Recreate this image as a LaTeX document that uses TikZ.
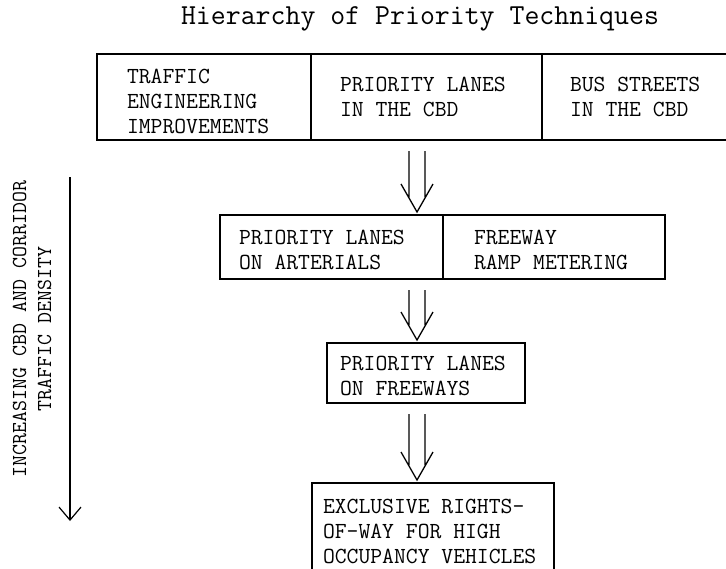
\documentclass[tikz,border=0pt]{standalone}
\usepackage{fontspec}
\usetikzlibrary{arrows.meta}

\tikzset{
  cell/.style={draw, line width=1.4pt, anchor=north west, outer sep=0pt,
    inner ysep=0pt, align=left, font=\ttfamily\fontsize{23}{25}\selectfont,
    execute at begin node={\spaceskip=0pt\xspaceskip=0pt\relax}},
  dbl/.style={line width=1.3pt, to path={
    ([xshift=-8pt,yshift=-11pt]\tikztostart) -- ([xshift=-8pt,yshift=18pt]\tikztotarget)
    ([xshift=8pt,yshift=-11pt]\tikztostart) -- ([xshift=8pt,yshift=18pt]\tikztotarget)
    ([xshift=-16pt,yshift=31pt]\tikztotarget) -- ([yshift=3pt]\tikztotarget)
      -- ([xshift=16pt,yshift=31pt]\tikztotarget)}}
}

\begin{document}
\begin{tikzpicture}[x=1pt,y=-1pt]
  \useasboundingbox (0,0) rectangle (726,568);
  \node[font=\ttfamily\fontsize{29}{32}\selectfont] (title) at (420,19)
    {Hierarchy of Priority Techniques};
  % top row
  \node[cell, minimum width=214, minimum height=86, inner xsep=30, text width=154,
    text height=24pt] (traffic) at (97,54) {TRAFFIC\\ENGINEERING\\IMPROVEMENTS};
  \node[cell, minimum width=231, minimum height=86, inner xsep=29, text width=173]
    (cbdlanes) at (traffic.north east) {PRIORITY LANES\\IN THE CBD};
  \node[cell, minimum width=200, minimum height=86, inner xsep=28, text width=144]
    (busstreets) at (cbdlanes.north east) {BUS STREETS\\IN THE CBD};
  % second row
  \node[cell, minimum width=223, minimum height=64, inner xsep=19, text width=185,
    text height=21pt] (artlanes) at (220,215) {PRIORITY LANES\\ON ARTERIALS};
  \node[cell, minimum width=222, minimum height=64, inner xsep=31, text width=160,
    text height=21pt] (ramp) at (artlanes.north east) {FREEWAY\\RAMP METERING};
  % third row
  \node[cell, minimum width=198, minimum height=60, inner xsep=13, text width=172,
    text height=21pt] (fwylanes) at (327,343) {PRIORITY LANES\\ON FREEWAYS};
  % last row
  \node[cell, minimum width=242, minimum height=96, inner xsep=11, text width=220]
    (hov) at (312,483) {EXCLUSIVE RIGHTS-\\OF-WAY FOR HIGH\\OCCUPANCY VEHICLES};
  % arrows down the middle
  \coordinate (axis) at (417,0);
  \draw[dbl] (axis |- cbdlanes.south) to (axis |- artlanes.north);
  \draw[dbl] (axis |- artlanes.south) to (axis |- fwylanes.north);
  \draw[dbl] (axis |- fwylanes.south) to (axis |- hov.north);
  % density axis
  \node[rotate=90, align=center, font=\ttfamily\fontsize{21.3}{25}\selectfont]
    (density) at (32,329) {INCREASING CBD AND CORRIDOR\\TRAFFIC DENSITY};
  \coordinate (densetop) at (70,177);
  \coordinate (densebot) at (70,521);
  \draw[line width=1.2pt, -{Straight Barb[length=13pt,width=22pt]}] (densetop) -- (densebot);
\end{tikzpicture}
\end{document}
